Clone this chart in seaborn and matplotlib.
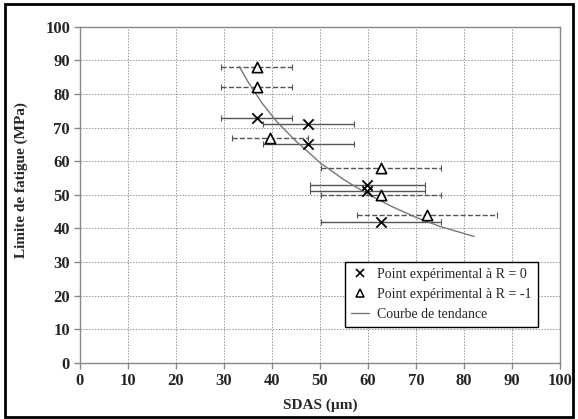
import numpy as np
import pandas as pd
import matplotlib
matplotlib.use("Agg")
import matplotlib.pyplot as plt
from matplotlib.patches import Rectangle
from matplotlib.lines import Line2D
import seaborn as sns

# R = 0 points (SDAS, fatigue limit, half-width of SDAS scatter)
r0_sdas = [36.8, 47.6, 47.6, 59.9, 59.9, 62.8]
r0_lim = [73, 71, 65, 53, 51, 42]
r0_err = [7.3, 9.5, 9.5, 12.0, 12.0, 12.5]

# R = -1 points
r1_sdas = [36.8, 36.8, 39.6, 62.8, 62.8, 72.3]
r1_lim = [88, 82, 67, 58, 50, 44]
r1_err = [7.3, 7.3, 7.9, 12.5, 12.5, 14.5]

# trend curve
trend_sdas = [33.2, 35, 38, 41, 45, 50, 55, 60, 65, 70, 75, 82.1]
trend_lim = [88.2, 83.7, 77.2, 71.8, 66.0, 59.6, 54.5, 50.2, 46.5, 43.3, 40.6, 37.6]

lab_r0 = "Point expérimental à R = 0"
lab_r1 = "Point expérimental à R = -1"
lab_tr = "Courbe de tendance"

df = pd.DataFrame({
    "SDAS": r0_sdas + r1_sdas,
    "Limite": r0_lim + r1_lim,
    "err": r0_err + r1_err,
    "serie": [lab_r0] * len(r0_sdas) + [lab_r1] * len(r1_sdas),
})
trend_df = pd.DataFrame({"SDAS": trend_sdas, "Limite": trend_lim})

sns.set_theme(style="white")
plt.rcParams["font.family"] = ["Liberation Serif", "DejaVu Serif"]

fig, ax = plt.subplots(figsize=(5.78, 4.19), dpi=100)
fig.subplots_adjust(left=0.138, right=0.969, bottom=0.134, top=0.936)

# error bars
bar_col = "#555555"
for serie, ls in [(lab_r0, "-"), (lab_r1, "--")]:
    d = df[df["serie"] == serie]
    eb = ax.errorbar(d["SDAS"], d["Limite"], xerr=d["err"], fmt="none",
                     ecolor=bar_col, elinewidth=1.0, capsize=2.5, capthick=0.8, zorder=2)
    for lc in eb[2]:
        lc.set_linestyle(ls)

# trend line
sns.lineplot(data=trend_df, x="SDAS", y="Limite", ax=ax, color="#777777",
             linewidth=1.0, sort=True, zorder=3, legend=False)

# markers
sns.scatterplot(data=df[df["serie"] == lab_r0], x="SDAS", y="Limite", ax=ax,
                marker="x", s=55, color="black", linewidth=1.3, zorder=4, legend=False)
sns.scatterplot(data=df[df["serie"] == lab_r1], x="SDAS", y="Limite", ax=ax,
                marker="^", s=55, facecolor="white", edgecolor="black", linewidth=1.2,
                zorder=4, legend=False)

ax.set_xlim(0, 100)
ax.set_ylim(0, 100)
ax.set_xticks(np.arange(0, 101, 10))
ax.set_yticks(np.arange(0, 101, 10))
ax.grid(True, linestyle=(0, (1.5, 1.5)), color="#999999", linewidth=0.7)
ax.set_axisbelow(True)

for side in ["left", "bottom", "top", "right"]:
    ax.spines[side].set_color("#888888")
    ax.spines[side].set_linewidth(1.0)

ax.tick_params(axis="both", direction="out", length=4, width=1, color="#888888",
               labelsize=12, pad=3, bottom=True, left=True)
for t in ax.get_xticklabels() + ax.get_yticklabels():
    t.set_fontweight("bold")

ax.set_xlabel("SDAS (µm)", fontsize=11, fontweight="bold", labelpad=7)
ax.set_ylabel("Limite de fatigue (MPa)", fontsize=11, fontweight="bold")
ax.yaxis.set_label_coords(-0.108, 0.545)

handles = [
    Line2D([], [], marker="x", color="black", linestyle="none", markersize=6, markeredgewidth=1.2),
    Line2D([], [], marker="^", markerfacecolor="white", markeredgecolor="black",
           linestyle="none", markersize=6, markeredgewidth=1.1),
    Line2D([], [], color="#777777", linewidth=1.0),
]
leg = ax.legend(handles, [lab_r0, lab_r1, lab_tr], loc="lower right",
                bbox_to_anchor=(0.969, 0.086), fontsize=10, frameon=True,
                fancybox=False, framealpha=1, edgecolor="black",
                handlelength=1.3, labelspacing=0.5, borderpad=0.45, handletextpad=0.6)
leg.get_frame().set_linewidth(1.0)

# outer border of the figure
fig.patches.append(Rectangle((0.008, 0.005), 0.984, 0.985, transform=fig.transFigure,
                             fill=False, edgecolor="black", linewidth=2))

fig.savefig("out.png", dpi=100, facecolor="white")
